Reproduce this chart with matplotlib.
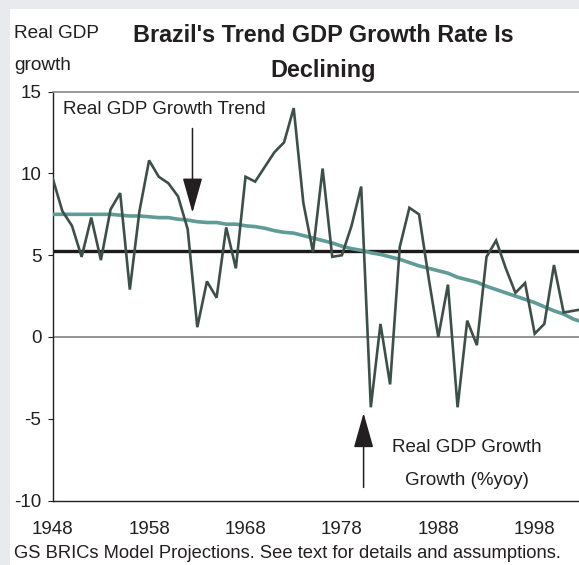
import matplotlib
matplotlib.use("Agg")
import matplotlib.pyplot as plt
from matplotlib.patches import Rectangle

plt.rcParams['font.family'] = ['Liberation Sans', 'DejaVu Sans']

years = list(range(1948, 2004))
growth = [9.7, 7.7, 6.8, 4.9, 7.3, 4.7, 7.8, 8.8, 2.9, 7.7,
          10.8, 9.8, 9.4, 8.6, 6.6, 0.6, 3.4, 2.4, 6.7, 4.2,
          9.8, 9.5, 10.4, 11.3, 11.9, 14.0, 8.2, 5.2, 10.3, 4.9,
          5.0, 6.8, 9.2, -4.3, 0.8, -2.9, 5.5, 7.9, 7.5, 3.6,
          0.0, 3.2, -4.3, 1.0, -0.5, 4.9, 5.9, 4.2, 2.7, 3.3,
          0.2, 0.8, 4.4, 1.5, 1.6, 1.7]
trend = [7.5, 7.5, 7.5, 7.5, 7.5, 7.5, 7.5,
         7.45, 7.4, 7.4, 7.35, 7.3, 7.3, 7.2, 7.15, 7.05, 7.0, 7.0,
         6.9, 6.9, 6.8, 6.75, 6.65, 6.5, 6.4, 6.35, 6.2, 6.05, 5.9,
         5.75, 5.55, 5.4, 5.3, 5.15, 5.05, 4.9, 4.75, 4.55, 4.35,
         4.2, 4.05, 3.9, 3.65, 3.5, 3.35, 3.1, 2.9, 2.7, 2.5, 2.3,
         2.1, 1.85, 1.6, 1.4, 1.1, 0.9]
average_growth = 5.25
yticks = [-10, -5, 0, 5, 10, 15]
xtick_years = [1948, 1958, 1968, 1978, 1988, 1998]

W, H = 579, 565
fig = plt.figure(figsize=(W / 100, H / 100), dpi=100, facecolor='#e9eaee')
fig.patches.append(Rectangle((10 / W, 0), 1, 1 - 9 / H, transform=fig.transFigure,
                             facecolor='white', edgecolor='none', zorder=-5))

def fx(px):
    return px / W

def fy(py):
    return 1 - py / H

ax = fig.add_axes([fx(52.7), fy(500.5), 1 - fx(52.7), fy(91.7) - fy(500.5)])
ax.set_zorder(2)
ax.set_facecolor('none')

ax.set_xlim(1948, 1948 + (579 - 52.7) / 9.64)
ax.set_ylim(-10, 15)

ax.axhline(0, color='#8a8a8a', lw=1.3, zorder=1)
ax.axhline(average_growth, color='#1c1a1b', lw=2.4, zorder=2)
ax.plot(years, trend, color='#5f9b97', lw=2.6, zorder=3, solid_capstyle='butt')
ax.plot(years, growth, color='#3c5048', lw=1.9, zorder=4, solid_joinstyle='miter')

ax.spines['right'].set_visible(False)
ax.spines['top'].set_color('#8a8a8a')
ax.spines['top'].set_linewidth(1.2)
ax.spines['left'].set_color('#231f20')
ax.spines['left'].set_linewidth(1.0)
ax.spines['bottom'].set_color('#231f20')
ax.spines['bottom'].set_linewidth(1.0)

ax.set_yticks(yticks)
ax.set_yticklabels([str(v) for v in yticks])
ax.tick_params(axis='y', direction='out', length=3.6, width=0.8, color='#231f20',
               pad=4.5, labelsize=13.5, labelcolor='#231f20')
ax.set_xticks(xtick_years)
ax.set_xticklabels([str(v) for v in xtick_years])
ax.tick_params(axis='x', length=0, pad=15, labelsize=13.5, labelcolor='#231f20')

arrow_style = '-|>,head_length=2.2,head_width=0.62'
ax.annotate('', xy=(1962.5, 7.6), xytext=(1962.5, 12.75),
            arrowprops=dict(arrowstyle=arrow_style, mutation_scale=10,
                            color='#231f20', lw=1.1, shrinkA=0, shrinkB=0))
ax.annotate('', xy=(1980.25, -4.65), xytext=(1980.25, -9.2),
            arrowprops=dict(arrowstyle=arrow_style, mutation_scale=10,
                            color='#231f20', lw=1.1, shrinkA=0, shrinkB=0))

ax.text(1949.1, 13.9, 'Real GDP Growth Trend', fontsize=13.5, color='#231f20',
        ha='left', va='center')
ax.text(1991.0, -6.75, 'Real GDP Growth', fontsize=13.5, color='#231f20',
        ha='center', va='center')
ax.text(1991.0, -8.75, 'Growth (%yoy)', fontsize=13.5, color='#231f20',
        ha='center', va='center')

fig.text(fx(14), fy(33), 'Real GDP', fontsize=13.7, color='#231f20', ha='left', va='center')
fig.text(fx(14), fy(66), 'growth', fontsize=13.7, color='#231f20', ha='left', va='center')
fig.text(fx(323), fy(35), "Brazil's Trend GDP Growth Rate Is", fontsize=16.8,
         fontweight='bold', color='#231f20', ha='center', va='center')
fig.text(fx(323), fy(70), 'Declining', fontsize=16.8, fontweight='bold',
         color='#231f20', ha='center', va='center')
fig.text(fx(14), fy(553), 'GS BRICs Model Projections. See text for details and assumptions.',
         fontsize=13.2, color='#231f20', ha='left', va='center')

fig.savefig('out.png', dpi=100, facecolor=fig.get_facecolor())
